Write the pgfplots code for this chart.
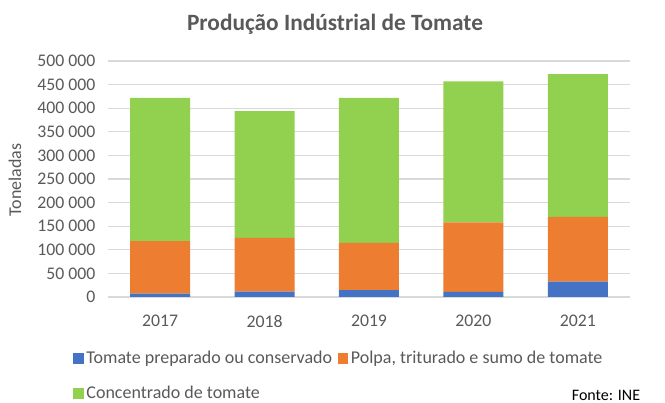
\documentclass[border=0pt]{standalone}
\usepackage{fontspec}
\setmainfont{Carlito}
\usepackage{pgfplots}
\pgfplotsset{compat=1.18}
\definecolor{tblue}{RGB}{68,114,196}
\definecolor{torange}{RGB}{237,125,49}
\definecolor{tgreen}{RGB}{146,208,80}
\definecolor{txtgray}{RGB}{89,89,89}
\definecolor{gridgray}{RGB}{217,217,217}
\begin{document}
\begin{tikzpicture}
% canvas = 665x403 px at 0.75pt per px
\path[use as bounding box] (0,0) rectangle (498.75pt,302.25pt);
\begin{axis}[
    at={(81pt,79.5pt)}, anchor=south west,
    scale only axis,
    width=391.5pt, height=177pt,
    ybar stacked, bar width=45pt,
    xmin=-0.5, xmax=4.5,
    ymin=0, ymax=500000,
    scaled y ticks=false,
    ytick={0,50000,100000,150000,200000,250000,300000,350000,400000,450000,500000},
    yticklabels={0,50 000,100 000,150 000,200 000,250 000,300 000,350 000,400 000,450 000,500 000},
    xtick={0,1,2,3,4},
    xticklabels={2017,2018,2019,2020,2021},
    ymajorgrids, major grid style={gridgray, line width=0.9pt},
    axis line style={draw=none},
    major tick length=0pt,
    tick label style={font=\fontsize{13.3}{15}\selectfont, text=txtgray},
    yticklabel style={xshift=-6pt},
    xticklabel style={yshift=-10pt, text depth=0pt},
    legend columns=2,
    legend cell align=left,
    legend style={draw=none, fill=none, at={(-0.075,-0.205)}, anchor=north west,
        font=\fontsize{13.5}{16}\selectfont, text=txtgray,
        /tikz/every even column/.append style={column sep=2pt},
        row sep=11.5pt},
    legend image code/.code={\fill[#1] (0pt,-4pt) rectangle (8pt,4pt);},
]
\addplot[fill=tblue, draw=none] coordinates {(0,7000) (1,11500) (2,14500) (3,11000) (4,32500)};
\addlegendentry{Tomate preparado ou conservado}
\addplot[fill=torange, draw=none] coordinates {(0,111500) (1,114000) (2,100000) (3,147000) (4,137000)};
\addlegendentry{Polpa, triturado e sumo de tomate}
\addplot[fill=tgreen, draw=none] coordinates {(0,303500) (1,268500) (2,307500) (3,299000) (4,302500)};
\addlegendentry{Concentrado de tomate}
\end{axis}
\node[font=\bfseries\fontsize{17.5}{20}\selectfont, text=txtgray] at (251.25pt,284.25pt) {Produção Indústrial de Tomate};
\node[rotate=90, font=\fontsize{13.5}{16}\selectfont, text=txtgray] at (11.25pt,167.25pt) {Toneladas};
\node[font=\fontsize{12}{14}\selectfont] at (454.5pt,5.5pt) {Fonte: INE};
\end{tikzpicture}
\end{document}
